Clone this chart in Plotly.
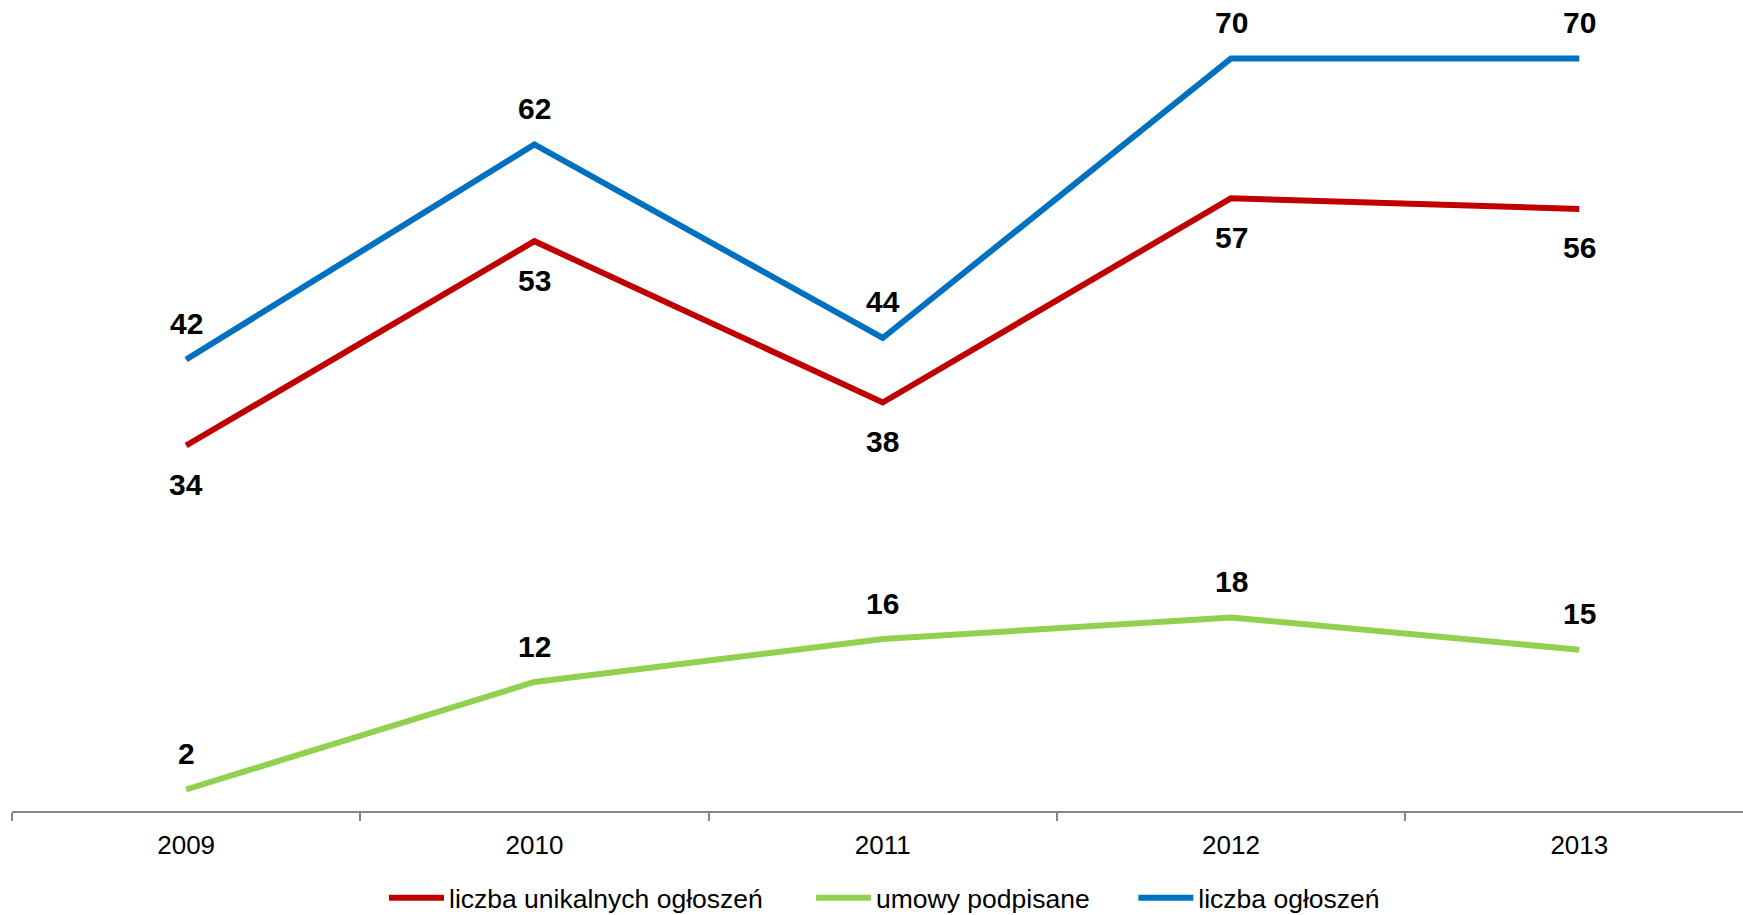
import plotly.graph_objects as go

years = ["2009", "2010", "2011", "2012", "2013"]
unikalne = [34, 53, 38, 57, 56]
umowy = [2, 12, 16, 18, 15]
ogloszenia = [42, 62, 44, 70, 70]

# name, values, colour, label side (1 above / -1 below), legend id
series = [
    ("liczba unikalnych ogłoszeń", unikalne, "#C00000", -1, "legend"),
    ("umowy podpisane", umowy, "#92D050", 1, "legend2"),
    ("liczba ogłoszeń", ogloszenia, "#0070C0", 1, "legend3"),
]

FONT = "Liberation Sans, Arial, sans-serif"

fig = go.Figure()
annotations = []
for name, vals, color, side, leg in series:
    fig.add_trace(go.Scatter(
        x=years, y=vals, name=name, mode="lines", legend=leg,
        line=dict(color=color, width=6),
    ))
    for i, v in enumerate(vals):
        annotations.append(dict(
            x=i, y=v, xref="x", yref="y", text=str(v), showarrow=False,
            yshift=36 if side > 0 else -39,
            font=dict(family=FONT, size=30, color="black", weight="bold"),
        ))

def legend_at(x):
    return dict(
        orientation="h", x=x, xanchor="left",
        y=0.0186, yref="container", yanchor="middle",
        font=dict(size=26.5), itemwidth=55, bgcolor="rgba(0,0,0,0)",
    )

fig.update_layout(
    width=1743, height=915,
    margin=dict(l=12, r=0, t=0, b=104, autoexpand=False),
    plot_bgcolor="white", paper_bgcolor="white",
    font=dict(family=FONT, size=26, color="black"),
    annotations=annotations,
    showlegend=True,
    legend=legend_at(0.2149),
    legend2=legend_at(0.4616),
    legend3=legend_at(0.6478),
)

fig.update_xaxes(
    type="category", range=[-0.5, 4.47],
    showline=True, linecolor="#868686", linewidth=1.5,
    ticks="outside", tickson="boundaries", ticklen=8, tickcolor="#868686", tickwidth=1.5,
    showgrid=False, zeroline=False, ticklabelstandoff=10,
)
fig.update_yaxes(range=[0, 75.44], visible=False, showgrid=False, zeroline=False)

# drop the default page margin so the figure sits at the window's corner
fig.write_html(
    "out.html",
    config={"displayModeBar": False},
    post_script="document.body.style.margin='0';",
)
